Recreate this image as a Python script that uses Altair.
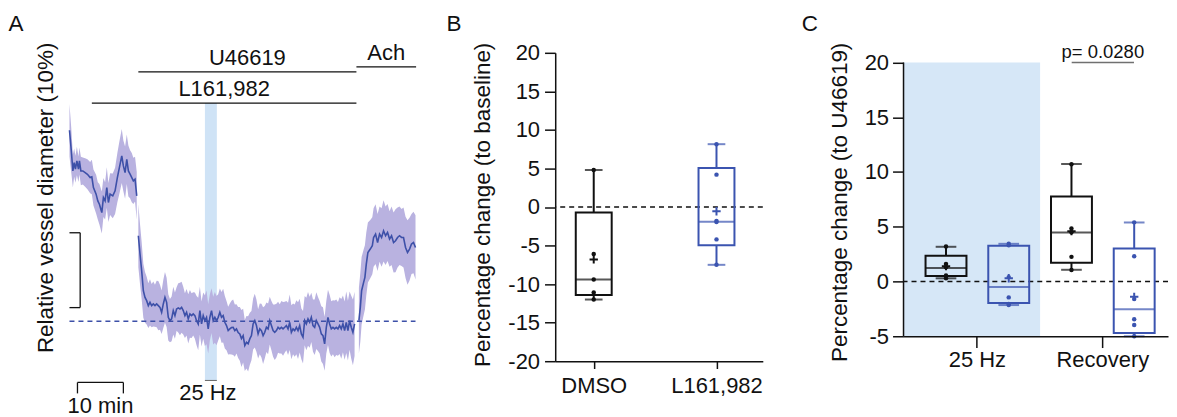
import altair as alt
import pandas as pd

FONT = "Liberation Sans"
INK = "#111111"
BLUE = "#3b54b0"
TRACE = "#3d50a8"
BAND = "#b9b2e0"
STIM = "#cfe3f6"
SHADE = "#d6e7f7"

# ---------------- Panel A : mean trace (% change of diameter) ----------------
seg1_t = [0, 0.37, 0.74, 1.02, 1.30, 1.61, 1.96, 2.17, 2.48, 2.91, 3.41, 3.91, 4.5, 4.87,
          5.22, 5.8, 6.17, 6.52, 7.04, 7.39, 7.76, 8.13, 8.48, 8.85, 9.43, 9.93, 10.43,
          10.87, 11.39, 11.74, 12.11, 12.48, 12.83, 13.2, 13.57, 13.91, 14.28, 14.65]
seg1_v = [25.52, 22.99, 20.09, 21.2, 20.32, 21.43, 20.32, 21.43, 20.09, 20.09, 19.87, 19.65,
          19.2, 19.29, 17.87, 16.99, 16.09, 15.65, 14.53, 16.53, 16.09, 17.87, 15.87, 16.99,
          16.76, 17.43, 19.2, 20.53, 22.09, 20.76, 19.87, 21.65, 20.09, 19.65, 19.2, 18.76,
          18.99, 16.76]
seg1_sem = [3.5, 3.0, 2.2, 1.9, 1.8, 1.9, 1.7, 1.8, 1.9, 1.8, 1.9, 2.0, 2.1, 2.3, 2.4, 2.6,
            2.5, 2.7, 2.8, 2.6, 2.5, 2.7, 2.6, 2.8, 3.0, 3.1, 3.3, 3.5, 3.6, 3.4, 3.5, 3.3,
            3.4, 3.2, 3.3, 3.1, 3.0, 3.2]

seg2_start = 15.0      # first sample (min)
seg2_step = 0.3623     # sampling interval (min)
seg2_v = [11.43, 8.99, 6.76, 4.09, 3.2, 2.76, 2.09, 2.53, 2.09, 2.32,
          2.09, 2.32, 2.09, 1.87, 1.2, 2.32, 3.2, 2.53, 0.53, 0.09,
          0.32, 1.43, 0.76, 1.65, 1.79, 1.65, 1.87, 1.43, 0.76, 1.2,
          0.32, 0.99, 0.76, 0.99, 0.76, 0.09, -0.35, 1.43, -0.35, 0.76,
          0.09, 0.53, -1.01, 0.53, 1.43, 0.09, 0.53, 0.09, 0.53, 1.2,
          0.53, 0.76, -0.13, -0.57, -1.24, -1.01, -0.84, -0.8, -1.24, -1.01,
          -1.5, -1.68, -2.3, -1.91, -3.24, -2.8, -3.01, -2.35, -1.91, -0.35,
          0.09, -0.57, -1.68, -1.01, -1.24, -1.91, -1.47, -0.8, -1.01, 0.09,
          -0.57, -1.24, -1.47, -1.24, -0.8, -1.01, -0.8, -1.01, -0.8, -0.57,
          -1.01, -0.13, -1.47, -1.01, -1.24, -0.8, -1.24, -0.57, -1.68, -2.13,
          0.09, -0.35, 0.32, -0.13, 0.53, -0.57, -0.8, 0.09, -0.35, -0.8,
          -1.68, -1.91, -3.01, -0.8, 0.53, -0.35, -1.01, -0.8, -1.01, -0.8,
          -1.01, -0.57, -1.01, -0.35, -1.24, -0.13, -1.24, 0.09, -0.8, -1.47,
          -0.35]
seg2_sem = [4.2, 4.0, 3.8, 3.6, 3.4, 3.2, 3.0, 3.1, 2.9, 3.0,
            2.8, 3.1, 3.3, 3.0, 2.9, 3.2, 3.4, 3.3, 3.1, 2.9,
            3.0, 3.2, 3.1, 2.9, 3.3, 3.5, 3.4, 3.2, 3.0, 3.1,
            3.3, 3.2, 3.0, 2.9, 3.1, 3.3, 3.5, 3.2, 3.0, 3.1,
            3.4, 3.6, 3.3, 3.1, 3.0, 3.2, 3.4, 3.3, 3.1, 3.2,
            3.4, 3.6, 3.5, 3.3, 3.2, 3.4, 3.6, 3.7, 3.5, 3.3,
            3.4, 3.6, 3.8, 3.6, 3.4, 3.5, 3.7, 3.5, 3.3, 3.4,
            3.6, 3.5, 3.3, 3.4, 3.6, 3.8, 3.5, 3.3, 3.4, 3.2,
            3.3, 3.5, 3.7, 3.6, 3.4, 3.3, 3.5, 3.6, 3.4, 3.3,
            3.5, 3.7, 3.6, 3.4, 3.5, 3.6, 3.8, 3.6, 3.4, 3.5,
            3.3, 3.5, 3.6, 3.4, 3.3, 3.5, 3.7, 3.8, 3.6, 3.5,
            3.7, 3.8, 3.6, 3.5, 3.7, 3.9, 3.7, 3.6, 3.8, 3.7,
            3.6, 3.8, 4.0, 3.8, 3.9, 4.1, 4.0, 3.9, 4.2, 4.4,
            4.3]

seg3_t = [63.04, 63.35, 63.63, 64.07, 64.35, 64.65, 65.0, 65.52, 65.96, 66.24, 66.67, 67.11,
          67.54, 67.98, 68.41, 68.85, 69.28, 69.72, 70.15, 70.59, 71.02, 71.46, 71.89, 72.33,
          72.76, 73.2, 73.63, 74.07, 74.5, 74.93, 75.37]
seg3_v = [0.09, 1.87, 4.09, 5.2, 5.87, 7.65, 9.2, 9.65, 10.09, 11.2, 11.65, 10.53, 11.65,
          11.2, 12.09, 11.43, 11.87, 10.99, 11.43, 10.53, 10.76, 11.2, 11.43, 11.2, 11.2,
          9.87, 9.2, 9.65, 10.32, 10.53, 9.87]
seg3_sem = [4.4, 4.6, 4.5, 4.4, 4.3, 4.2, 4.0, 3.9, 3.8, 3.9, 4.0, 3.8, 3.7, 3.9, 4.1, 3.9,
            3.8, 3.7, 3.9, 4.0, 4.2, 4.0, 3.9, 3.8, 4.0, 4.1, 4.3, 4.2, 4.0, 4.1, 4.3]

# drug applications (horizontal bars above the trace)
drug_name = ["L161,982", "U46619", "Ach"]
drug_start = [4.87, 15.0, 62.5]
drug_end = [62.5, 62.5, 75.5]
drug_level = [29.16, 33.33, 34.0]

# 25 Hz stimulation window
stim_label = "25 Hz"
stim_start, stim_end = 29.5, 32.1
stim_top, stim_bottom = 29.16, -7.9

# scale bars: 10 min and 10 %
tbar_start, tbar_len, tbar_level, tbar_tick = 1.74, 10.0, -8.17, -1.46
vbar_t, vbar_low, vbar_len, vbar_tick = 2.33, 1.83, 10.0, -2.33
tbar_text_level = -12.27

# ---------------- Panel B ----------------
b_groups = ["DMSO", "L161,982"]
b_q1 = [-11.4, -4.95]
b_med = [-9.4, -1.9]
b_q3 = [-0.7, 5.05]
b_lo = [-12.0, -7.5]
b_hi = [4.8, 8.15]
b_mean = [-6.8, -0.55]
b_pts_dmso = [4.8, -6.1, -9.4, -11.1, -12.0]
b_pts_l161 = [8.15, 4.2, -1.8, -1.95, -4.2, -7.5]

# ---------------- Panel C ----------------
c_conds = ["25 Hz", "25 Hz", "Recovery", "Recovery"]
c_groups = ["DMSO", "L161,982", "DMSO", "L161,982"]
c_q1 = [0.5, -1.96, 1.71, -4.7]
c_med = [1.23, -0.51, 4.48, -2.54]
c_q3 = [2.35, 3.26, 7.76, 3.02]
c_lo = [0.29, -2.15, 1.07, -5.0]
c_hi = [3.17, 3.44, 10.73, 5.39]
c_mean = [1.4, 0.3, 4.6, -1.4]
c_pts = [[3.2, 1.6, 1.3, 0.55, 0.3],
         [3.45, 3.3, 0.4, -1.45, -2.05, -2.15],
         [10.7, 4.85, 4.5, 2.25, 1.05],
         [5.4, 2.3, -1.6, -3.45, -3.97, -5.0]]
p_text = "p= 0.0280"

# ============ build tables ============
seg2_t = [seg2_start + seg2_step * i for i in range(len(seg2_v))]
trace = pd.concat([
    pd.DataFrame({"t": seg1_t, "v": seg1_v, "sem": seg1_sem, "seg": "baseline"}),
    pd.DataFrame({"t": seg2_t, "v": seg2_v, "sem": seg2_sem, "seg": "U46619"}),
    pd.DataFrame({"t": seg3_t, "v": seg3_v, "sem": seg3_sem, "seg": "Ach"}),
], ignore_index=True)
trace["lo"] = trace["v"] - trace["sem"]
trace["hi"] = trace["v"] + trace["sem"]

drugs = pd.DataFrame({"name": drug_name, "t0": drug_start, "t1": drug_end, "lvl": drug_level})
drugs["mid"] = (drugs["t0"] + drugs["t1"]) / 2
stim = pd.DataFrame({"label": [stim_label], "t0": [stim_start], "t1": [stim_end],
                     "top": [stim_top], "bot": [stim_bottom],
                     "mid": [(stim_start + stim_end) / 2]})
tb_end = tbar_start + tbar_len
vb_top = vbar_low + vbar_len
bars = pd.DataFrame({
    "t0": [tbar_start, tbar_start, tb_end, vbar_t, vbar_t + vbar_tick, vbar_t + vbar_tick],
    "t1": [tb_end, tbar_start, tb_end, vbar_t, vbar_t, vbar_t],
    "y0": [tbar_level, tbar_level, tbar_level, vbar_low, vbar_low, vb_top],
    "y1": [tbar_level, tbar_level + tbar_tick, tbar_level + tbar_tick, vb_top, vbar_low, vb_top],
})
tlabel = pd.DataFrame({"label": ["10 min"], "t": [tbar_start + tbar_len / 2], "y": [tbar_text_level]})
baseline0 = pd.DataFrame({"t0": [seg1_t[0]], "t1": [seg3_t[-1]], "y": [0.0]})

# ============ Panel A ============
A_W, A_H = 353, 360
xA = alt.Scale(domain=[-1.587, 75.15], nice=False, zero=False)
yA = alt.Scale(domain=[-12.13, 35.87], nice=False, zero=False)
axA = alt.Axis(domain=False, ticks=False, labels=False, grid=False,
               title="Relative vessel diameter (10%)", titleFontSize=22.5,
               titleFontWeight="normal", titleColor=INK, titleAngle=270,
               titleBaseline="alphabetic", titleAlign="center", titleX=-9.7, titleY=144.8)

def XA(f):
    return alt.X(f, type="quantitative", scale=xA, axis=None)

def YA(f):
    return alt.Y(f, type="quantitative", scale=yA, axis=axA)

baseA = alt.Chart(trace)
stim_rect = alt.Chart(stim).mark_rect(color=STIM).encode(
    x=XA("t0"), x2="t1", y=YA("top"), y2="bot")
stim_floor = alt.Chart(stim).mark_rule(color="#666666", strokeWidth=1).encode(
    x=XA("t0"), x2="t1", y=YA("bot"))
stim_text = alt.Chart(stim).mark_text(fontSize=22, color=INK, baseline="alphabetic",
                                      dx=-3, dy=20).encode(
    x=XA("mid"), y=YA("bot"), text="label:N")
band = baseA.mark_area(color=BAND, opacity=1).encode(
    x=XA("t"), y=YA("lo"), y2="hi", detail="seg:N")
dash0 = alt.Chart(baseline0).mark_rule(color=TRACE, strokeDash=[5, 4], strokeWidth=1.5).encode(
    x=XA("t0"), x2="t1", y=YA("y"))
line = baseA.mark_line(color=TRACE, strokeWidth=1.6).encode(
    x=XA("t"), y=YA("v"), detail="seg:N")
drug_rules = alt.Chart(drugs).mark_rule(color=INK, strokeWidth=1.3).encode(
    x=XA("t0"), x2="t1", y=YA("lvl"))
drug_text = alt.Chart(drugs).mark_text(fontSize=22, color=INK, baseline="alphabetic", dy=-7).encode(
    x=XA("mid"), y=YA("lvl"), text="name:N")
bar_rules = alt.Chart(bars).mark_rule(color=INK, strokeWidth=1.3).encode(
    x=XA("t0"), x2="t1", y=YA("y0"), y2="y1")
bar_text = alt.Chart(tlabel).mark_text(fontSize=22, color=INK, baseline="alphabetic").encode(
    x=XA("t"), y=YA("y"), text="label:N")
letterA = alt.Chart(pd.DataFrame({"label": ["A"]})).mark_text(
    fontSize=22.5, color=INK, align="left", baseline="alphabetic").encode(
    x=alt.value(-53.7), y=alt.value(-22.2), text="label:N")

panelA = alt.layer(stim_rect, band, stim_floor, dash0, line, drug_rules, drug_text,
                   bar_rules, bar_text, stim_text, letterA).properties(width=A_W, height=A_H)

# ============ shared box-plot pieces ============
colorScale = alt.Scale(domain=["DMSO", "L161,982"], range=[INK, BLUE])
PLUS = "M-1,0L1,0M0,-1L0,1"

def box_panel(stats, pts, X, Y, Xo, box_w, cap_w):
    def enc(**kw):
        if Xo is not None:
            kw["xOffset"] = Xo
        return kw
    col = alt.Color("group:N", scale=colorScale, legend=None)
    strk = alt.Stroke("group:N", scale=colorScale, legend=None)
    box = alt.Chart(stats).mark_bar(size=box_w, fill="transparent", strokeWidth=2).encode(
        **enc(x=X, y=Y("q1"), y2="q3", stroke=strk))
    med = alt.Chart(stats).mark_tick(size=box_w, thickness=2).encode(
        **enc(x=X, y=Y("med"), color=col))
    wlo = alt.Chart(stats).mark_rule(strokeWidth=2).encode(
        **enc(x=X, y=Y("lo"), y2="q1", color=col))
    whi = alt.Chart(stats).mark_rule(strokeWidth=2).encode(
        **enc(x=X, y=Y("q3"), y2="hi", color=col))
    caplo = alt.Chart(stats).mark_tick(size=cap_w, thickness=2).encode(
        **enc(x=X, y=Y("lo"), color=col))
    caphi = alt.Chart(stats).mark_tick(size=cap_w, thickness=2).encode(
        **enc(x=X, y=Y("hi"), color=col))
    dots = alt.Chart(pts).mark_circle(size=20, opacity=1).encode(
        **enc(x=X, y=Y("val"), color=col))
    mean = alt.Chart(stats).mark_point(shape=PLUS, size=70, strokeWidth=2, filled=False,
                                       opacity=1).encode(
        **enc(x=X, y=Y("mean"), stroke=strk))
    return [box, wlo, whi, caplo, caphi, med, dots, mean]

axis_common = dict(grid=False, domainColor=INK, tickColor=INK, labelColor=INK,
                   domainWidth=1.5, tickWidth=1.5, labelFontSize=22, labelFont=FONT)
HYPHEN_LABELS = "datum.value + ''"

# ============ Panel B ============
B_W, B_H = 208, 309
statsB = pd.DataFrame({"group": b_groups, "q1": b_q1, "med": b_med, "q3": b_q3,
                       "lo": b_lo, "hi": b_hi, "mean": b_mean})
ptsB = pd.concat([pd.DataFrame({"group": "DMSO", "val": b_pts_dmso}),
                  pd.DataFrame({"group": "L161,982", "val": b_pts_l161})], ignore_index=True)
xB = alt.X("group:N", scale=alt.Scale(type="point", domain=b_groups, padding=0.3455, align=0.454),
           axis=alt.Axis(labelAngle=0, tickSize=7.3, labelPadding=6.8, title=None, **axis_common))
yBscale = alt.Scale(domain=[-20, 20], nice=False, zero=False)
axB = alt.Axis(values=[-20, -15, -10, -5, 0, 5, 10, 15, 20], tickSize=10.7, labelPadding=5,
               labelExpr=HYPHEN_LABELS,
               title="Percentage change (to baseline)", titleFontSize=22.5,
               titleFontWeight="normal", titleColor=INK, titleAngle=270,
               titleBaseline="alphabetic", titleAlign="center", titleX=-65.7, titleY=151.8,
               **axis_common)

def YB(f):
    return alt.Y(f, type="quantitative", scale=yBscale, axis=axB)

zeroB = alt.Chart(pd.DataFrame({"val": [0.0]})).mark_rule(
    color=INK, strokeDash=[5, 4], strokeWidth=1.3).encode(y=YB("val"))
letterB = alt.Chart(pd.DataFrame({"label": ["B"]})).mark_text(
    fontSize=22.5, color=INK, align="left", baseline="alphabetic").encode(
    x=alt.value(-109.0), y=alt.value(-22.2), text="label:N")
panelB = alt.layer(zeroB, *box_panel(statsB, ptsB, xB, YB, None, 36, 17.7), letterB).properties(
    width=B_W, height=B_H)

# ============ Panel C ============
C_W, C_H = 265, 284
statsC = pd.DataFrame({"cond": c_conds, "group": c_groups, "q1": c_q1, "med": c_med,
                       "q3": c_q3, "lo": c_lo, "hi": c_hi, "mean": c_mean})
ptsC = pd.concat([pd.DataFrame({"cond": c, "group": g, "val": v})
                  for c, g, v in zip(c_conds, c_groups, c_pts)], ignore_index=True)
cond_domain = ["25 Hz", "Recovery"]
xCscale = alt.Scale(domain=cond_domain, paddingInner=0, paddingOuter=0.054, align=0.82)
axCx = alt.Axis(labelAngle=0, tickSize=11.3, labelPadding=2, title=None, **axis_common)
xC = alt.X("cond:N", scale=xCscale, axis=axCx)
xoC = alt.XOffset("group:N", scale=alt.Scale(domain=b_groups, paddingInner=0, paddingOuter=0))
yCscale = alt.Scale(domain=[-5, 20.884], nice=False, zero=False)
axC = alt.Axis(values=[-5, 0, 5, 10, 15, 20], domain=False, tickSize=11, labelPadding=4,
               labelExpr=HYPHEN_LABELS,
               title="Percentage change (to U46619)", titleFontSize=22.5,
               titleFontWeight="normal", titleColor=INK, titleAngle=270,
               titleBaseline="alphabetic", titleAlign="center", titleX=-57.6, titleY=149.3,
               **axis_common)

def YC(f):
    return alt.Y(f, type="quantitative", scale=yCscale, axis=axC)

shade = alt.Chart(pd.DataFrame({"cond": ["25 Hz"], "top": [20.0], "bot": [-5.0]})).mark_rect(
    color=SHADE).encode(x=alt.X("cond:N", scale=xCscale, axis=axCx, bandPosition=1),
                        x2=alt.value(0), y=YC("top"), y2="bot")
yline = alt.Chart(pd.DataFrame({"top": [20.0], "bot": [-5.0]})).mark_rule(
    color=INK, strokeWidth=1.5).encode(x=alt.value(0), y=YC("top"), y2="bot")
zeroC = alt.Chart(pd.DataFrame({"val": [0.0]})).mark_rule(
    color=INK, strokeDash=[5, 4], strokeWidth=1.3).encode(y=YC("val"))
pdf = pd.DataFrame({"cond": ["Recovery"], "val": [20.0], "label": [p_text]})
pline = alt.Chart(pdf).mark_tick(size=62.4, thickness=1.3, color="#333333").encode(
    x=xC, y=YC("val"))
ptext = alt.Chart(pdf).mark_text(fontSize=18.5, color=INK, baseline="alphabetic", dy=-5).encode(
    x=xC, y=YC("val"), text="label:N")
letterC = alt.Chart(pd.DataFrame({"label": ["C"]})).mark_text(
    fontSize=22.5, color=INK, align="left", baseline="alphabetic").encode(
    x=alt.value(-102.0), y=alt.value(-22.2), text="label:N")
panelC = alt.layer(shade, zeroC, yline, *box_panel(statsC, ptsC, xC, YC, xoC, 41, 20.7),
                   pline, ptext, letterC).properties(width=C_W, height=C_H)

chart = alt.hconcat(panelA, panelB, panelC, spacing=141, bounds="flush").properties(
    padding={"left": 0.3, "top": 3.5, "right": 0, "bottom": 0}
).configure(font=FONT).configure_view(stroke=None).configure_axis(grid=False)

chart.save("out.html", embed_options={"renderer": "svg", "actions": False})
